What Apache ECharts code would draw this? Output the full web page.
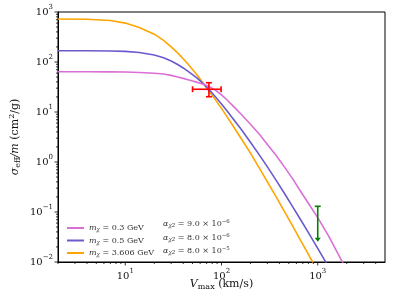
<!DOCTYPE html>
<html><head><meta charset="utf-8">
<script src="https://cdn.jsdelivr.net/npm/echarts@6/dist/echarts.min.js"></script>
<style>html,body{margin:0;padding:0;background:#fff}#c{width:394px;height:306px}</style>
</head><body><div id="c"></div>
<script>
// ---- data ----
const vMax    = [2, 4, 7, 10, 14, 20, 25, 30, 35, 40, 45, 50, 55, 60, 67, 75, 85, 100, 115, 130, 160, 200, 250, 300, 370, 450, 550, 650, 800, 1000, 1300, 1800, 2500];
const sigma03 = [64, 64, 63.5, 63, 61.5, 59.5, 57.5, 54, 50.2, 47, 44.2, 41.8, 39.6, 37.6, 35, 32, 28, 22, 17.2, 13.6, 9, 5.7, 3.5, 2.25, 1.35, 0.8, 0.46, 0.275, 0.15, 0.077, 0.033, 0.0101, 0.0032];
const sigma05 = [168, 167.5, 166, 163, 155, 138, 122, 105, 89, 76, 65, 56, 48.5, 42, 34.5, 27.5, 20.9, 14.4, 10.3, 7.6, 4.5, 2.48, 1.34, 0.8, 0.43, 0.237, 0.127, 0.075, 0.0386, 0.0187, 0.0079, 0.0026, 0.0008];
const sigma36 = [724, 715, 675, 600, 490, 360, 270, 200, 152, 116, 90, 71, 57, 45.5, 34, 25.5, 18.3, 11.8, 7.9, 5.5, 2.95, 1.5, 0.73, 0.4, 0.2, 0.103, 0.052, 0.029, 0.0142, 0.0066, 0.0026, 0.00085, 0.00026];
const massLabels = ['0.3', '0.5', '3.606'];
const alphaMant  = ['9.0', '8.0', '8.0'];
const alphaExp   = ['−6', '−6', '−5'];
const seriesColors = ['#da70d6', '#6a5acd', '#ffa500'];
// red point: v, sigma, vLow, vHigh, sigmaLow, sigmaHigh
const redPoint = [74, 28.5, 50, 99, 20.2, 38.5];
// green upper limit: v, sigmaTop, sigmaArrow
const greenLimit = [1000, 0.13, 0.0255];
const xMajor = [10, 100, 1000];
const yMajor = [0.01, 0.1, 1, 10, 100, 1000];
const xDecades = [1, 10, 100, 1000];
const yDecades = [0.01, 0.1, 1, 10, 100];
const minorMult = [2, 3, 4, 5, 6, 7, 8, 9];
const X_MIN = 2, X_MAX = 5000, Y_MIN = 0.01, Y_MAX = 1000;

// ---- build ----
const FONT = 'DejaVu Serif';
const TXT = '#111';
const sigmas = [sigma03, sigma05, sigma36];
const names = massLabels.map(m => 'm' + m);

const xTickData = [];
xMajor.forEach(v => xTickData.push([v, Y_MIN, 1]));
xDecades.forEach(d => minorMult.forEach(m => { const v = d * m; if (v > X_MIN && v < X_MAX) xTickData.push([v, Y_MIN, 0]); }));
xTickData.push([X_MIN, Y_MIN, 0]);
const yTickData = [];
yMajor.forEach(v => yTickData.push([X_MIN, v, 1]));
yDecades.forEach(d => minorMult.forEach(m => yTickData.push([X_MIN, d * m, 0])));

function supLabel(v) {
  const e = Math.round(Math.log10(v));
  if (Math.abs(Math.log10(v) - e) > 1e-6) return '';
  return '{b|10}{p|' + String(e).replace('-', '−') + '}';
}
const labelRich = {
  b: { fontFamily: FONT, fontSize: 10, lineHeight: 16, color: TXT, verticalAlign: 'middle' },
  p: { fontFamily: FONT, fontSize: 7, lineHeight: 8, color: TXT, verticalAlign: 'top' }
};

const lineSeries = names.map((n, k) => ({
  name: n, type: 'line', showSymbol: false, symbol: 'none',
  smooth: false, clip: true,
  lineStyle: { color: seriesColors[k], width: 1.6 },
  itemStyle: { color: seriesColors[k] },
  data: vMax.map((v, i) => [v, sigmas[k][i]]), z: 3 + (2 - k)
}));

const tickSeriesX = {
  type: 'custom', silent: true, clip: false, z: 10, data: xTickData,
  renderItem: (p, api) => {
    const pt = api.coord([api.value(0), api.value(1)]);
    const len = api.value(2) ? 3.5 : 2;
    return { type: 'line', shape: { x1: pt[0], y1: pt[1], x2: pt[0], y2: pt[1] + len }, style: { stroke: '#000', lineWidth: 0.8 } };
  }
};
const tickSeriesY = {
  type: 'custom', silent: true, clip: false, z: 10, data: yTickData,
  renderItem: (p, api) => {
    const pt = api.coord([api.value(0), api.value(1)]);
    const len = api.value(2) ? 3.5 : 2;
    return { type: 'line', shape: { x1: pt[0] - len, y1: pt[1], x2: pt[0], y2: pt[1] }, style: { stroke: '#000', lineWidth: 0.8 } };
  }
};

const redSeries = {
  type: 'custom', silent: true, clip: false, z: 20, data: [redPoint],
  renderItem: (p, api) => {
    const x = api.value(0), y = api.value(1);
    const L = api.coord([api.value(2), y]), R = api.coord([api.value(3), y]);
    const B = api.coord([x, api.value(4)]), T = api.coord([x, api.value(5)]);
    const st = { stroke: '#ff0000', lineWidth: 1.6 };
    const c = 3;
    return { type: 'group', children: [
      { type: 'line', shape: { x1: L[0], y1: L[1], x2: R[0], y2: R[1] }, style: st },
      { type: 'line', shape: { x1: B[0], y1: B[1], x2: T[0], y2: T[1] }, style: st },
      { type: 'line', shape: { x1: L[0], y1: L[1] - c, x2: L[0], y2: L[1] + c }, style: st },
      { type: 'line', shape: { x1: R[0], y1: R[1] - c, x2: R[0], y2: R[1] + c }, style: st },
      { type: 'line', shape: { x1: B[0] - c, y1: B[1], x2: B[0] + c, y2: B[1] }, style: st },
      { type: 'line', shape: { x1: T[0] - c, y1: T[1], x2: T[0] + c, y2: T[1] }, style: st }
    ] };
  }
};
const greenSeries = {
  type: 'custom', silent: true, clip: false, z: 20, data: [greenLimit],
  renderItem: (p, api) => {
    const x = api.value(0);
    const T = api.coord([x, api.value(1)]), B = api.coord([x, api.value(2)]);
    const st = { stroke: '#008000', lineWidth: 1.6 };
    return { type: 'group', children: [
      { type: 'line', shape: { x1: T[0], y1: T[1], x2: B[0], y2: B[1] - 2 }, style: st },
      { type: 'line', shape: { x1: T[0] - 3, y1: T[1], x2: T[0] + 3, y2: T[1] }, style: st },
      { type: 'polygon', shape: { points: [[B[0] - 3, B[1] - 4], [B[0] + 3, B[1] - 4], [B[0], B[1]]] }, style: { fill: '#008000' } }
    ] };
  }
};

const legRich = {
  i: { fontFamily: FONT, fontStyle: 'italic', fontSize: 8, color: '#333', lineHeight: 10 },
  r: { fontFamily: FONT, fontSize: 8, color: '#333', lineHeight: 10 },
  s: { fontFamily: FONT, fontStyle: 'italic', fontSize: 5.5, color: '#333', lineHeight: 6, verticalAlign: 'bottom' },
  p: { fontFamily: FONT, fontSize: 5.5, color: '#333', lineHeight: 6, verticalAlign: 'top' }
};

const alphaTexts = alphaMant.map((m, i) => ({
  type: 'text', left: 163, top: 219 + i * 13.5, silent: true, z: 30,
  style: { text: '{i|α}{s|χ2}{r| = ' + m + ' × 10}{p|' + alphaExp[i] + '}', rich: legRich, fill: '#333' }
}));

const nameRich = {
  i: { fontFamily: FONT, fontStyle: 'italic', fontSize: 11, color: TXT, lineHeight: 14 },
  r: { fontFamily: FONT, fontSize: 11, color: TXT, lineHeight: 14 },
  s: { fontFamily: FONT, fontSize: 8, color: TXT, lineHeight: 8, verticalAlign: 'bottom' },
  p: { fontFamily: FONT, fontSize: 8, color: TXT, lineHeight: 8, verticalAlign: 'top' }
};

const option = {
  animation: false,
  backgroundColor: '#fff',
  grid: { left: 58, right: 9, top: 12, bottom: 44, show: true, borderColor: '#000', borderWidth: 1, backgroundColor: 'transparent' },
  xAxis: {
    type: 'log', logBase: 10, min: X_MIN, max: X_MAX,
    axisLine: { show: true, lineStyle: { color: '#000', width: 1 } },
    axisTick: { show: false }, minorTick: { show: false },
    splitLine: { show: false },
    axisLabel: { margin: 6, formatter: supLabel, rich: labelRich, showMinLabel: true, showMaxLabel: true },
    name: '{i|V}{s|max}{r| (km/s)}', nameLocation: 'middle', nameGap: 15, nameMoveOverlap: false,
    nameTextStyle: { rich: nameRich }
  },
  yAxis: {
    type: 'log', logBase: 10, min: Y_MIN, max: Y_MAX,
    axisLine: { show: true, lineStyle: { color: '#000', width: 1 } },
    axisTick: { show: false }, minorTick: { show: false },
    splitLine: { show: false },
    axisLabel: { margin: 5, formatter: supLabel, rich: labelRich },
    name: '{i|σ}{s|eff}{i|/m}{r| (cm}{p|2}{r|/g)}', nameLocation: 'middle', nameGap: 36, nameRotate: 90, nameMoveOverlap: false,
    nameTextStyle: { rich: nameRich }
  },
  legend: {
    data: names, orient: 'vertical', left: 62, top: 219, itemWidth: 17, itemHeight: 2, itemGap: 3.5,
    icon: 'rect', selectedMode: false,
    formatter: n => '{i|m}{s|χ}{r| = ' + n.slice(1) + ' GeV}',
    textStyle: { rich: legRich, color: '#333' }
  },
  graphic: alphaTexts,
  series: [...lineSeries, tickSeriesX, tickSeriesY, redSeries, greenSeries]
};
const chart = echarts.init(document.getElementById('c'), null, { renderer: 'canvas' });
chart.setOption(option);
</script></body></html>
